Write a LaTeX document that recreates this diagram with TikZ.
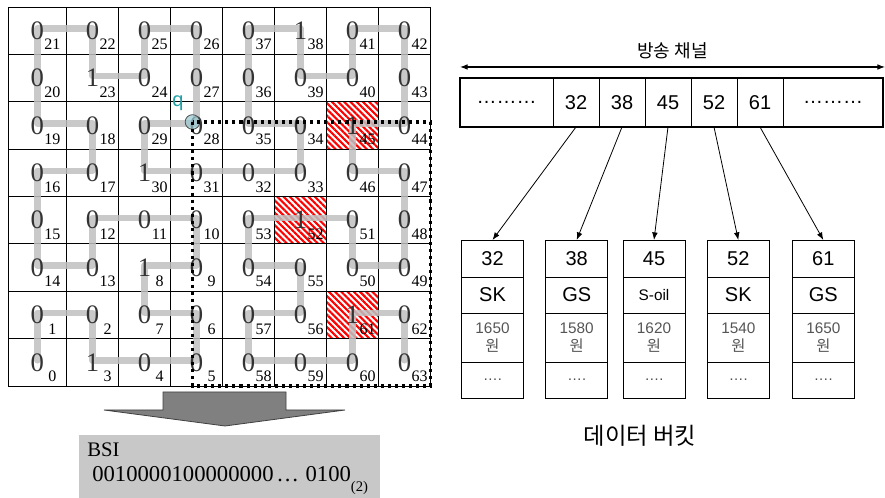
\documentclass[tikz,border=0pt]{standalone}
\usepackage{fontspec}
\setmainfont{Liberation Serif}
\setsansfont{Liberation Sans}
\newfontfamily\krfont{Noto Sans CJK KR}
\usepackage{tikz}
\usetikzlibrary{calc,arrows.meta,positioning,patterns.meta}
\definecolor{curvegray}{RGB}{192,192,192}
\definecolor{qteal}{RGB}{32,160,165}
\definecolor{qfill}{RGB}{150,200,208}
\definecolor{bsigray}{RGB}{200,200,200}
\definecolor{blockgray}{RGB}{128,128,128}
\definecolor{pricegray}{RGB}{85,85,85}
\newcommand\fsz[2]{\fontsize{#1}{#2}\selectfont}
% rows of the grid, top to bottom: hilbert index / bit
\newcommand\hcells{
  {21/0,22/0,25/0,26/0,37/0,38/1,41/0,42/0},
  {20/0,23/1,24/0,27/0,36/0,39/0,40/0,43/0},
  {19/0,18/0,29/0,28/0,35/0,34/0,45/1,44/0},
  {16/0,17/0,30/1,31/0,32/0,33/0,46/0,47/0},
  {15/0,12/0,11/0,10/0,53/0,52/1,51/0,48/0},
  {14/0,13/0,8/1,9/0,54/0,55/0,50/0,49/0},
  {1/0,2/0,7/0,6/0,57/0,56/0,61/1,62/0},
  {0/0,3/1,4/0,5/0,58/0,59/0,60/0,63/0}}

\begin{document}
\begin{tikzpicture}[x=0.75pt,y=-0.75pt,
    bitlbl/.style={font=\fsz{20}{24},text=black!80,inner sep=0pt},
    idxlbl/.style={font=\fsz{12}{14},inner sep=0pt},
    hpath/.style={draw=curvegray,line width=4.8pt,line cap=round,line join=round,draw opacity=0.85},
    hatchcell/.style={pattern={Lines[angle=-45,distance=3.3pt,line width=1.6pt]},pattern color=red,draw=black,line width=0.6pt},
    gridline/.style={draw=black,line width=0.6pt},
    qbound/.style={line width=2.3pt,dash pattern=on 2.3pt off 3pt},
    chcell/.style={draw,line width=0.6pt,inner sep=0pt,outer sep=0pt,minimum width=34.5pt,minimum height=36.75pt,font=\sffamily\fsz{15}{18}},
    bkcell/.style={draw,line width=0.6pt,inner sep=0pt,outer sep=0pt,minimum width=46.5pt,align=center,font=\sffamily\fsz{15}{18}},
    arr/.style={-{Latex[length=2mm,width=1.5mm]},line width=0.6pt}]
   \useasboundingbox (0,0) rectangle (885,498);
   % hatched cells 45, 52, 61
   \draw[hatchcell] (326.5,101.75) rectangle (378.5,149.1);
   \draw[hatchcell] (274.5,196.5) rectangle (326.5,243.9);
   \draw[hatchcell] (326.5,291.25) rectangle (378.5,338.6);
   % grid
   \foreach \gx in {8.3,66.5,118.5,170.5,222.5,274.5,326.5,378.5,430.5}
     \draw[gridline] (\gx,7) -- (\gx,386);
   \foreach \gy in {7,54.375,101.75,149.125,196.5,243.875,291.25,338.625,386}
     \draw[gridline] (8.3,\gy) -- (430.5,\gy);
   \coordinate (gridse) at (430.5,386);
   \foreach \rowcells [count=\hrow from 0] in \hcells
     \foreach \hidx/\hbit [count=\hcol from 0] in \rowcells {
       \pgfmathsetmacro\cx{ifthenelse(\hcol==0,37.4,92.5+52*(\hcol-1))}
       \pgfmathsetmacro\cy{7+47.375*(\hrow+0.5)}
       \coordinate (h\hidx) at (\cx,\cy-2);
       \node[idxlbl] (n\hidx) at (\cx+15,\cy+14) {\hidx};
     }
   % hilbert curve
   \draw[hpath] (h0) \foreach \i in {1,...,63} { -- (h\i) };
   \foreach \rowcells in \hcells
     \foreach \hidx/\hbit in \rowcells
       \node[bitlbl] (b\hidx) at ($(h\hidx)+(0,2)$) {\hbit};
   % query point and range
   \node[circle,draw=black!70,fill=qfill,fill opacity=0.7,line width=0.6pt,minimum size=11pt,inner sep=0pt] (q) at (192.5,122) {};
   \node[text=qteal,font=\sffamily\fsz{15}{17}] (qlbl) at (178,103) {q};
   \draw[qbound] (q.center) rectangle (gridse);
   % block arrow
   \draw[fill=blockgray,draw=black!75,line width=0.6pt] (163,392) -- (286,392) -- (286,410) -- (345,410) -- (225,426) -- (104,410) -- (163,410) -- cycle;
   % BSI
   \fill[bsigray] (79,435) rectangle (380,500);
   \node[anchor=base west,font=\fsz{15.5}{18},inner sep=0pt] (bsilbl) at (87,457) {BSI};
   \node[anchor=base west,font=\fsz{17}{20},inner sep=0pt] (bsibits) at (92,482) {0010000100000000\hspace{2pt}…\hspace{5pt}0100\raisebox{-7pt}{\fsz{11}{13}(2)}};
   % broadcast channel
   \coordinate (chl) at (460,67);
   \coordinate (chr) at (885,67);
   \draw[{Latex[length=2mm,width=1.5mm]}-{Latex[length=2mm,width=1.5mm]},line width=0.8pt] (chl) -- (chr)
     node[midway,above=2pt,font=\krfont\fsz{13.5}{16}] (chlbl) {방송 채널};
   \node[chcell,minimum width=69.75pt] (c0) at (506.5,102.5) {………};
   \node[chcell,right=0pt of c0] (c32) {32};
   \node[chcell,right=0pt of c32] (c38) {38};
   \node[chcell,right=0pt of c38] (c45) {45};
   \node[chcell,right=0pt of c45] (c52) {52};
   \node[chcell,right=0pt of c52] (c61) {61};
   \node[chcell,minimum width=75pt,right=0pt of c61] (c9) {………};
   \draw[line width=2.2pt] (c0.north west) rectangle (c9.south east);
   % data buckets
   \foreach \kid/\brand/\price/\bx in {32/SK/1650/492.5,38/GS/1580/576.7,45/{\fsz{11.5}{14}S-oil}/1620/654,52/SK/1540/738.3,61/GS/1650/823.3} {
     \node[bkcell,minimum height=27.75pt,anchor=north] (k\kid) at (\bx,240) {\kid};
     \node[bkcell,minimum height=27pt,below=0pt of k\kid] (s\kid) {\brand};
     \node[bkcell,minimum height=36.75pt,below=0pt of s\kid,font=\sffamily\fsz{11.5}{13.5},text=pricegray] (p\kid) {\price\\{\krfont 원}};
     \node[bkcell,minimum height=27pt,below=0pt of p\kid,font=\sffamily\fsz{11}{13},text=black!70] (e\kid) {….};
     \draw[arr] (c\kid.south) -- (k\kid.north);
   }
   \node[font=\krfont\fsz{17.5}{20}] (bklbl) at (640,436) {데이터 버킷};
\end{tikzpicture}
\end{document}
